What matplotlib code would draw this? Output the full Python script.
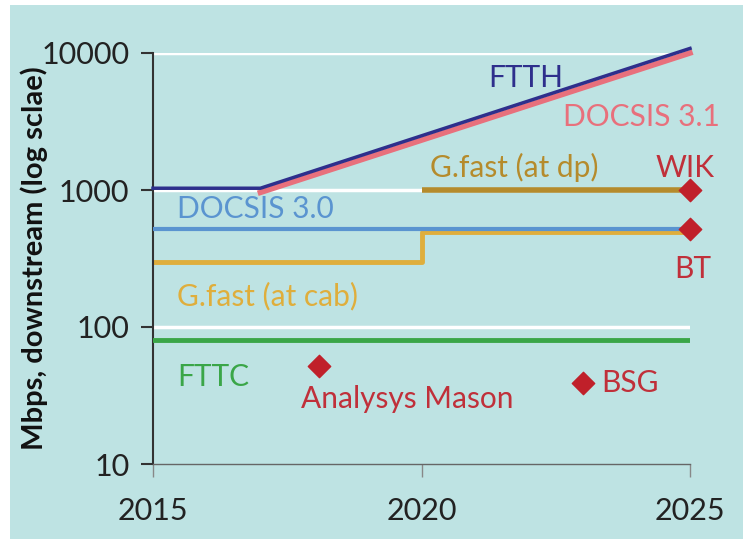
import matplotlib.pyplot as plt
from matplotlib.patches import Rectangle

BG = "#bee3e3"

# step/line series (year, Mbps)
ftth_x = [2015, 2017, 2025]
ftth_y = [1030, 1030, 10800]
docsis31_x = [2017, 2025]
docsis31_y = [960, 10000]
gfast_dp_x = [2020, 2025]
gfast_dp_y = [1000, 1000]
docsis30_x = [2015, 2025]
docsis30_y = [520, 520]
gfast_cab_x = [2015, 2020, 2020, 2025]
gfast_cab_y = [300, 300, 490, 490]
fttc_x = [2015, 2025]
fttc_y = [80, 80]

# forecast points
pt_names = ["WIK", "BT", "Analysys Mason", "BSG"]
pt_x = [2025, 2025, 2018.1, 2023]
pt_y = [1000, 520, 52, 39]

fig = plt.figure(figsize=(7.43, 5.39), dpi=100, facecolor="white")
fig.patches.append(Rectangle((10 / 743, 0), 1, 1 - 5 / 539, transform=fig.transFigure,
                             facecolor=BG, edgecolor="none", zorder=-10))
ax = fig.add_axes([153 / 743, 1 - 464 / 539, (690 - 153) / 743, (464 - 53) / 539])
ax.set_facecolor(BG)
ax.patch.set_alpha(0)

ax.set_yscale("log")
ax.set_ylim(10, 10000)
ax.set_xlim(2015, 2025)

for g in [100, 1000, 10000]:
    ax.plot([2015, 2025], [g, g], color="white", lw=2.5, zorder=1)

ax.plot(docsis31_x, docsis31_y, color="#e8707c", lw=4, zorder=3, clip_on=False)
ax.plot(ftth_x, ftth_y, color="#2e2f8c", lw=2.5, zorder=4, clip_on=False)
ax.plot(gfast_dp_x, gfast_dp_y, color="#b58b2c", lw=4, zorder=3, solid_capstyle="butt")
ax.plot(gfast_cab_x, gfast_cab_y, color="#dfae3c", lw=3.5, zorder=2)
ax.plot(docsis30_x, docsis30_y, color="#5a94d0", lw=3, zorder=3)
ax.plot(fttc_x, fttc_y, color="#3aa648", lw=3.5, zorder=3)
ax.scatter(pt_x, pt_y, marker="D", s=130, color="#c0202a", zorder=5, clip_on=False)

font = "Lato"
fs = 21.5
red = "#c0303a"
ax.text(2021.95, 6600, "FTTH", color="#2e2f8c", fontsize=fs, family=font, ha="center", va="center")
ax.text(2025.55, 3400, "DOCSIS 3.1", color="#e8707c", fontsize=fs, family=font, ha="right", va="center")
ax.text(2020.15, 1450, "G.fast (at dp)", color="#b58b2c", fontsize=fs, family=font, ha="left", va="center")
ax.text(2025.45, 1450, "WIK", color=red, fontsize=fs, family=font, ha="right", va="center")
ax.text(2015.45, 730, "DOCSIS 3.0", color="#5a94d0", fontsize=fs, family=font, ha="left", va="center")
ax.text(2015.45, 168, "G.fast (at cab)", color="#dfae3c", fontsize=fs, family=font, ha="left", va="center")
ax.text(2025.4, 265, "BT", color=red, fontsize=fs, family=font, ha="right", va="center")
ax.text(2015.45, 43, "FTTC", color="#3aa648", fontsize=fs, family=font, ha="left", va="center")
ax.text(2017.75, 30, "Analysys Mason", color=red, fontsize=fs, family=font, ha="left", va="center")
ax.text(2023.35, 39, "BSG", color=red, fontsize=fs, family=font, ha="left", va="center")

for s in ["top", "right"]:
    ax.spines[s].set_visible(False)
ax.spines["left"].set_color("#333333")
ax.spines["left"].set_linewidth(1.5)
ax.spines["bottom"].set_color("#666666")
ax.spines["bottom"].set_linewidth(1.0)

ax.set_yticks([10, 100, 1000, 10000])
ax.set_yticklabels(["10", "100", "1000", "10000"])
ax.minorticks_off()
ax.set_xticks([2015, 2020, 2025])
ax.set_xticklabels(["2015", "2020", "2025"])
ax.tick_params(axis="y", direction="out", length=9, width=1.5, color="#333333",
               labelsize=22, labelcolor="#222222", pad=8)
ax.tick_params(axis="x", direction="out", length=9, width=1.0, color="#888888",
               labelsize=22, labelcolor="#222222", pad=15)
for lab in ax.get_xticklabels() + ax.get_yticklabels():
    lab.set_family(font)

ax.set_ylabel("Mbps, downstream (log sclae)", fontsize=21, fontweight="bold",
              family=font, color="#111111")
ax.yaxis.set_label_coords(-0.195, 0.5)

fig.savefig("out.png", dpi=100, facecolor=fig.get_facecolor())
